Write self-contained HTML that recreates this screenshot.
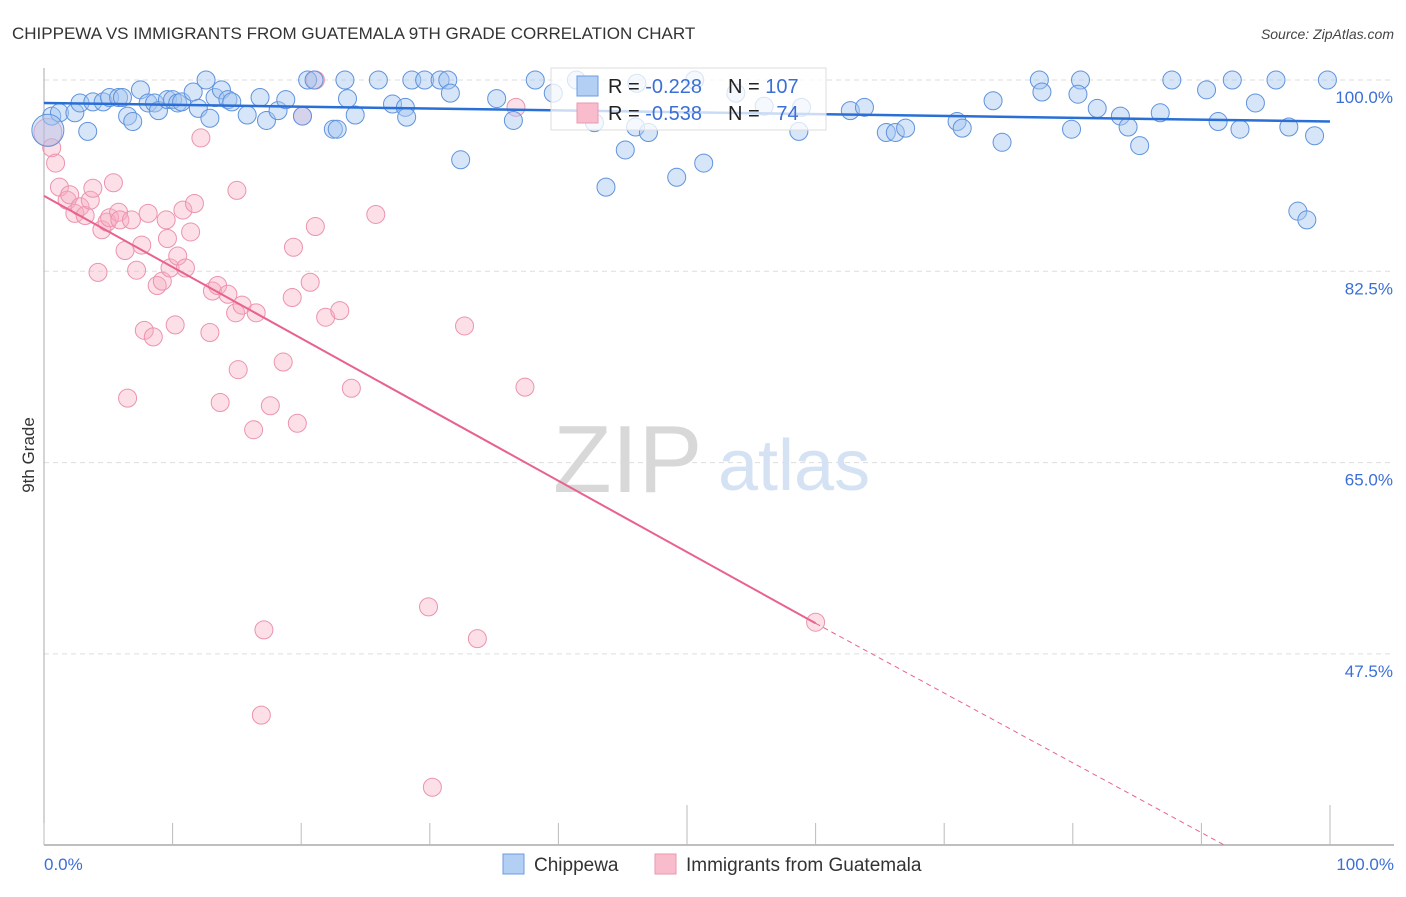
<!DOCTYPE html>
<html><head><meta charset="utf-8"><style>
body{margin:0;background:#fff;font-family:"Liberation Sans",sans-serif;}
svg text{font-family:"Liberation Sans",sans-serif;}
</style></head><body>
<svg id="chart" width="1406" height="892">
<text x="12" y="39" font-size="17" fill="#333">CHIPPEWA VS IMMIGRANTS FROM GUATEMALA 9TH GRADE CORRELATION CHART</text>
<text x="1394" y="39" font-size="14" fill="#444" text-anchor="end" font-style="italic">Source: ZipAtlas.com</text>
<g id="grid"></g>
<g>
<text x="553" y="492" font-size="96" fill="#d8d8d8" font-family="Liberation Serif, serif">ZIP</text>
<text x="718" y="490" font-size="72" fill="#d4e2f4">atlas</text>
</g>
<g id="pts"></g>
<g id="lines"></g>
<text transform="translate(34,455) rotate(-90)" font-size="17" fill="#333" text-anchor="middle">9th Grade</text>
<g>
<rect x="551" y="68" width="275" height="62" fill="rgba(255,255,255,0.75)" stroke="#ddd"/>
<rect x="577" y="76" width="21" height="20" fill="#b4cff4" stroke="#6a9be0"/>
<rect x="577" y="103" width="21" height="20" fill="#f8bccd" stroke="#e89ab0"/>
<text x="608" y="93" font-size="20" fill="#222">R = <tspan fill="#3b6fd6">-0.228</tspan></text>
<text x="728" y="93" font-size="20" fill="#222">N = <tspan fill="#3b6fd6">107</tspan></text>
<text x="608" y="120" font-size="20" fill="#222">R = <tspan fill="#3b6fd6">-0.538</tspan></text>
<text x="728" y="120" font-size="20" fill="#222">N = <tspan fill="#3b6fd6">&#160;&#160;74</tspan></text>
</g>
<g>
<rect x="503" y="854" width="21" height="20" fill="#b4cff4" stroke="#6a9be0"/>
<text x="534" y="871" font-size="19" fill="#333">Chippewa</text>
<rect x="655" y="854" width="21" height="20" fill="#f8bccd" stroke="#e89ab0"/>
<text x="686" y="871" font-size="19" fill="#333">Immigrants from Guatemala</text>
</g>
</svg>
<script>
const yTicks=[100,82.5,65,47.5];
const yTickLabels=["100.0%","82.5%","65.0%","47.5%"];
const xTickLabels=["0.0%","100.0%"];
const blueX=[0.6,1.2,2.4,2.8,3.4,3.8,4.6,5.1,5.8,6.1,6.5,6.9,7.5,8.1,8.6,8.9,9.6,10,10.4,10.7,11.6,12,12.6,12.9,13.3,13.8,14.3,14.6,15.8,16.8,17.3,18.2,18.8,20.1,20.5,21,22.5,22.8,23.4,23.6,24.2,26,27.1,28.1,28.2,28.6,29.6,30.8,31.4,31.6,32.4,35.2,36.5,38.2,39.6,41.4,42.8,43.7,45.2,46.1,46,47,49.2,50.6,51.3,53.8,56,58.7,58.9,62.7,63.8,65.5,66.2,67,71,71.4,73.8,74.5,77.4,77.6,80.6,80.4,81.9,79.9,83.7,84.3,85.2,86.8,87.7,90.4,91.3,92.4,93,94.2,95.8,96.8,97.5,98.2,98.8,99.8,0.3];
const blueY=[96.7,97,97,97.9,95.3,98,98,98.4,98.4,98.4,96.7,96.2,99.1,97.9,97.9,97.2,98.2,98.2,97.9,98,98.9,97.4,100,96.5,98.4,99.1,98.2,98,96.8,98.4,96.3,97.2,98.2,96.7,100,100,95.5,95.5,100,98.3,96.8,100,97.8,97.5,96.6,100,100,100,100,98.8,92.7,98.3,96.3,100,98.8,100,96.1,90.2,93.6,99.7,95.7,95.2,91.1,100,92.4,98.8,97.6,95.3,97.5,97.2,97.5,95.2,95.2,95.6,96.2,95.6,98.1,94.3,100,98.9,100,98.7,97.4,95.5,96.7,95.7,94,97,100,99.1,96.2,100,95.5,97.9,100,95.7,88,87.2,94.9,100,95.4];
const pinkX=[0.3,0.6,0.9,1.2,1.8,2.0,2.4,2.8,3.2,3.6,3.8,4.2,4.5,4.9,5.1,5.4,5.8,5.9,6.3,6.5,6.8,7.2,7.6,7.8,8.1,8.5,8.8,9.2,9.5,9.6,9.8,10.2,10.4,10.8,11.0,11.4,11.7,12.2,12.9,13.1,13.5,13.7,14.3,14.9,15.0,15.1,15.4,16.3,16.5,16.9,17.1,17.6,18.6,19.3,19.4,19.7,20.1,20.7,21.1,21.1,21.9,23.0,23.9,25.8,29.9,30.2,32.7,33.7,36.7,37.4,60.0];
const pinkY=[95.2,93.8,92.4,90.2,89,89.5,87.8,88.4,87.6,89,90.1,82.4,86.3,87,87.4,90.6,87.9,87.2,84.4,70.9,87.2,82.6,84.9,77.1,87.8,76.5,81.2,81.6,87.2,85.5,82.8,77.6,83.9,88.1,82.8,86.1,88.7,94.7,76.9,80.7,81.2,70.5,80.4,78.7,89.9,73.5,79.4,68,78.7,41.9,49.7,70.2,74.2,80.1,84.7,68.6,96.7,81.5,100,86.6,78.3,78.9,71.8,87.7,51.8,35.3,77.5,48.9,97.5,71.9,50.4];
const X0=44,X1=1330,Y100=80,PX_PER=191.3/17.5;
const sx=v=>X0+(X1-X0)*v/100;
const sy=v=>Y100+(100-v)*PX_PER;
const NS="http://www.w3.org/2000/svg";
function mk(tag,attrs,parent){const e=document.createElementNS(NS,tag);for(const k in attrs)e.setAttribute(k,attrs[k]);parent.appendChild(e);return e;}
const grid=document.getElementById('grid');
yTicks.forEach((t,i)=>{
const g=mk('line',{x1:44,x2:1394,y1:sy(t),y2:sy(t),stroke:'#ddd','stroke-dasharray':'5,4'},grid);


const l=mk('text',{x:1393,y:sy(t)+23,'font-size':17,fill:'#3b6fd6','text-anchor':'end'},grid);
l.textContent=yTickLabels[i];


});
const ax=mk('line',{x1:44,x2:44,y1:68,y2:845,stroke:'#aaa'},grid);


const bx=mk('line',{x1:44,x2:1394,y1:845,y2:845,stroke:'#aaa','stroke-width':1.5},grid);


for(let i=0;i<=10;i++){
const x=sx(i*10);const top=(i==5||i==10)?805:823;
const t=mk('line',{x1:x,x2:x,y1:top,y2:845,stroke:'#bbb'},grid);


}
const xl0=mk('text',{x:44,y:870,'font-size':17,fill:'#3b6fd6'},grid);xl0.textContent=xTickLabels[0];


const xl1=mk('text',{x:1394,y:870,'font-size':17,fill:'#3b6fd6','text-anchor':'end'},grid);xl1.textContent=xTickLabels[1];


const pts=document.getElementById('pts');
pinkX.forEach((v,i)=>{
const r=(i==0)?14:9;
const c=mk('circle',{cx:sx(v),cy:sy(pinkY[i]),r:r,fill:'rgba(246,170,192,0.38)',stroke:'#eb94ae','stroke-width':1},pts);


});
blueX.forEach((v,i)=>{
const r=(i==blueX.length-1)?16:9;
const c=mk('circle',{cx:sx(v),cy:sy(blueY[i]),r:r,fill:'rgba(165,198,240,0.45)',stroke:'#5f93dd','stroke-width':1},pts);


});
const lines=document.getElementById('lines');
const bl=mk('line',{x1:sx(0),y1:sy(97.9),x2:sx(100),y2:sy(96.2),stroke:'#2a6fd6','stroke-width':2.5},lines);


const pl=mk('line',{x1:sx(0),y1:sy(89.4),x2:sx(60),y2:sy(50.3),stroke:'#e8628e','stroke-width':2},lines);


const pd=mk('line',{x1:sx(60),y1:sy(50.3),x2:sx(91.8),y2:sy(30),stroke:'#e8628e','stroke-width':1,'stroke-dasharray':'5,4'},lines);


</script>
</body></html>
